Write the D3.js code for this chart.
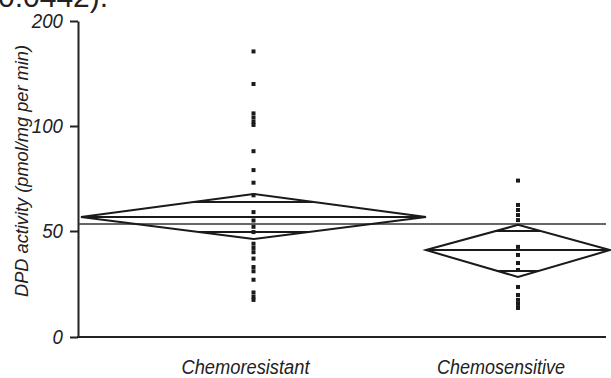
<!DOCTYPE html>
<html><head><meta charset="utf-8">
<script src="https://cdn.jsdelivr.net/npm/d3@7/dist/d3.min.js"></script>
<style>
html,body{margin:0;padding:0;background:#fff;overflow:hidden}
svg{display:block}
</style></head>
<body>
<svg id="c" width="611" height="378"></svg>
<script>
// ---- data ----
const categories = ["Chemoresistant", "Chemosensitive"];
const groupN = [30, 16]; // relative sample sizes (diamond widths)
const resistantValues = [171, 140, 112, 108, 104, 101, 88, 79, 73, 67, 59, 55, 52, 49.5, 44, 42, 40, 37, 33, 31, 27, 21, 19, 17.5];
const sensitiveValues = [74, 62.4, 60, 57.6, 55.2, 42.5, 38.7, 34.9, 31.6, 23.6, 19.8, 17.5, 15.6, 13.7];
const groupMeans = [56.7, 41.0];
const ciLower = [46.2, 28.3];
const ciUpper = [67.6, 52.9];
const overlapLower = [49.5, 31.1];
const overlapUpper = [63.8, 50.0];
const grandMean = 53.3;
const yTicks = [0, 50, 100, 200];
const yLabel = "DPD activity (pmol/mg per min)";
const caption = "0.0442).";

// ---- layout ----
const svg = d3.select("#c");
const font = "'Liberation Sans',Arial,Helvetica,sans-serif";
const y = d3.scaleLinear().domain([0, 50, 100, 200]).range([337, 231, 126, 21]);
const N = d3.sum(groupN);
const x = d3.scaleLinear().domain([0, N]).range([81, 610]);
const starts = groupN.map((n, i) => d3.sum(groupN.slice(0, i)));
const centers = groupN.map((n, i) => x(starts[i] + n / 2));
const labelShift = [-8, -17];

// caption fragment cut off at top
svg.append("text").attr("x", -2).attr("y", 7)
  .attr("font-family", font).attr("font-size", 30)
  .attr("fill", "#222").text(caption);

// y axis
const ax = svg.append("g").attr("transform", "translate(78,0)")
  .call(d3.axisLeft(y).tickValues(yTicks).tickSize(8).tickSizeOuter(0).tickPadding(7));
ax.select(".domain").attr("stroke", "#222").attr("stroke-width", 2);
ax.selectAll(".tick line").attr("stroke", "#222").attr("stroke-width", 2);
ax.selectAll(".tick text").attr("font-family", font).attr("font-size", 20)
  .attr("font-style", "italic").attr("fill", "#222")
  .attr("textLength", d => String(d).length * 10.4).attr("lengthAdjust", "spacingAndGlyphs");

// x axis line
svg.append("line").attr("x1", 77).attr("x2", 606).attr("y1", y(0)).attr("y2", y(0))
  .attr("stroke", "#222").attr("stroke-width", 2.2);

// y label
svg.append("text").attr("transform", `translate(28,171) rotate(-90)`)
  .attr("text-anchor", "middle").attr("font-family", font).attr("font-size", 19)
  .attr("font-style", "italic").attr("fill", "#222")
  .attr("textLength", 252).attr("lengthAdjust", "spacingAndGlyphs").text(yLabel);

// category labels
svg.selectAll("text.cat").data(categories).join("text").attr("class", "cat")
  .attr("x", (d, i) => centers[i] + labelShift[i]).attr("y", 374).attr("text-anchor", "middle")
  .attr("font-family", font).attr("font-size", 20).attr("font-style", "italic")
  .attr("fill", "#222").attr("textLength", 128).attr("lengthAdjust", "spacingAndGlyphs")
  .text(d => d);

// grand mean line
svg.append("line").attr("x1", 78).attr("x2", 606).attr("y1", y(grandMean)).attr("y2", y(grandMean))
  .attr("stroke", "#333").attr("stroke-width", 1.6);

// diamonds
categories.forEach((c, i) => {
  const x0 = x(starts[i]), x1 = x(starts[i] + groupN[i]), cx = (x0 + x1) / 2, hw = (x1 - x0) / 2;
  const ym = y(groupMeans[i]), yt = y(ciUpper[i]), yb = y(ciLower[i]);
  const g = svg.append("g");
  g.append("path").attr("d", `M${x0},${ym}L${cx},${yt}L${x1},${ym}L${cx},${yb}Z`)
    .attr("fill", "none").attr("stroke", "#1a1a1a").attr("stroke-width", 2).attr("stroke-linejoin", "miter");
  g.append("line").attr("x1", x0).attr("x2", x1).attr("y1", ym).attr("y2", ym)
    .attr("stroke", "#1a1a1a").attr("stroke-width", 2);
  const ou = y(overlapUpper[i]), ol = y(overlapLower[i]);
  const wu = hw * (ou - yt) / (ym - yt), wl = hw * (yb - ol) / (yb - ym);
  g.append("line").attr("x1", cx - wu).attr("x2", cx + wu).attr("y1", ou).attr("y2", ou)
    .attr("stroke", "#1a1a1a").attr("stroke-width", 2);
  g.append("line").attr("x1", cx - wl).attr("x2", cx + wl).attr("y1", ol).attr("y2", ol)
    .attr("stroke", "#1a1a1a").attr("stroke-width", 2);
});

// points
[resistantValues, sensitiveValues].forEach((vals, i) => {
  svg.append("g").selectAll("rect").data(vals).join("rect")
    .attr("x", centers[i] - 2).attr("y", d => y(d) - 2).attr("width", 4).attr("height", 4)
    .attr("fill", "#1a1a1a");
});
</script>
</body></html>
